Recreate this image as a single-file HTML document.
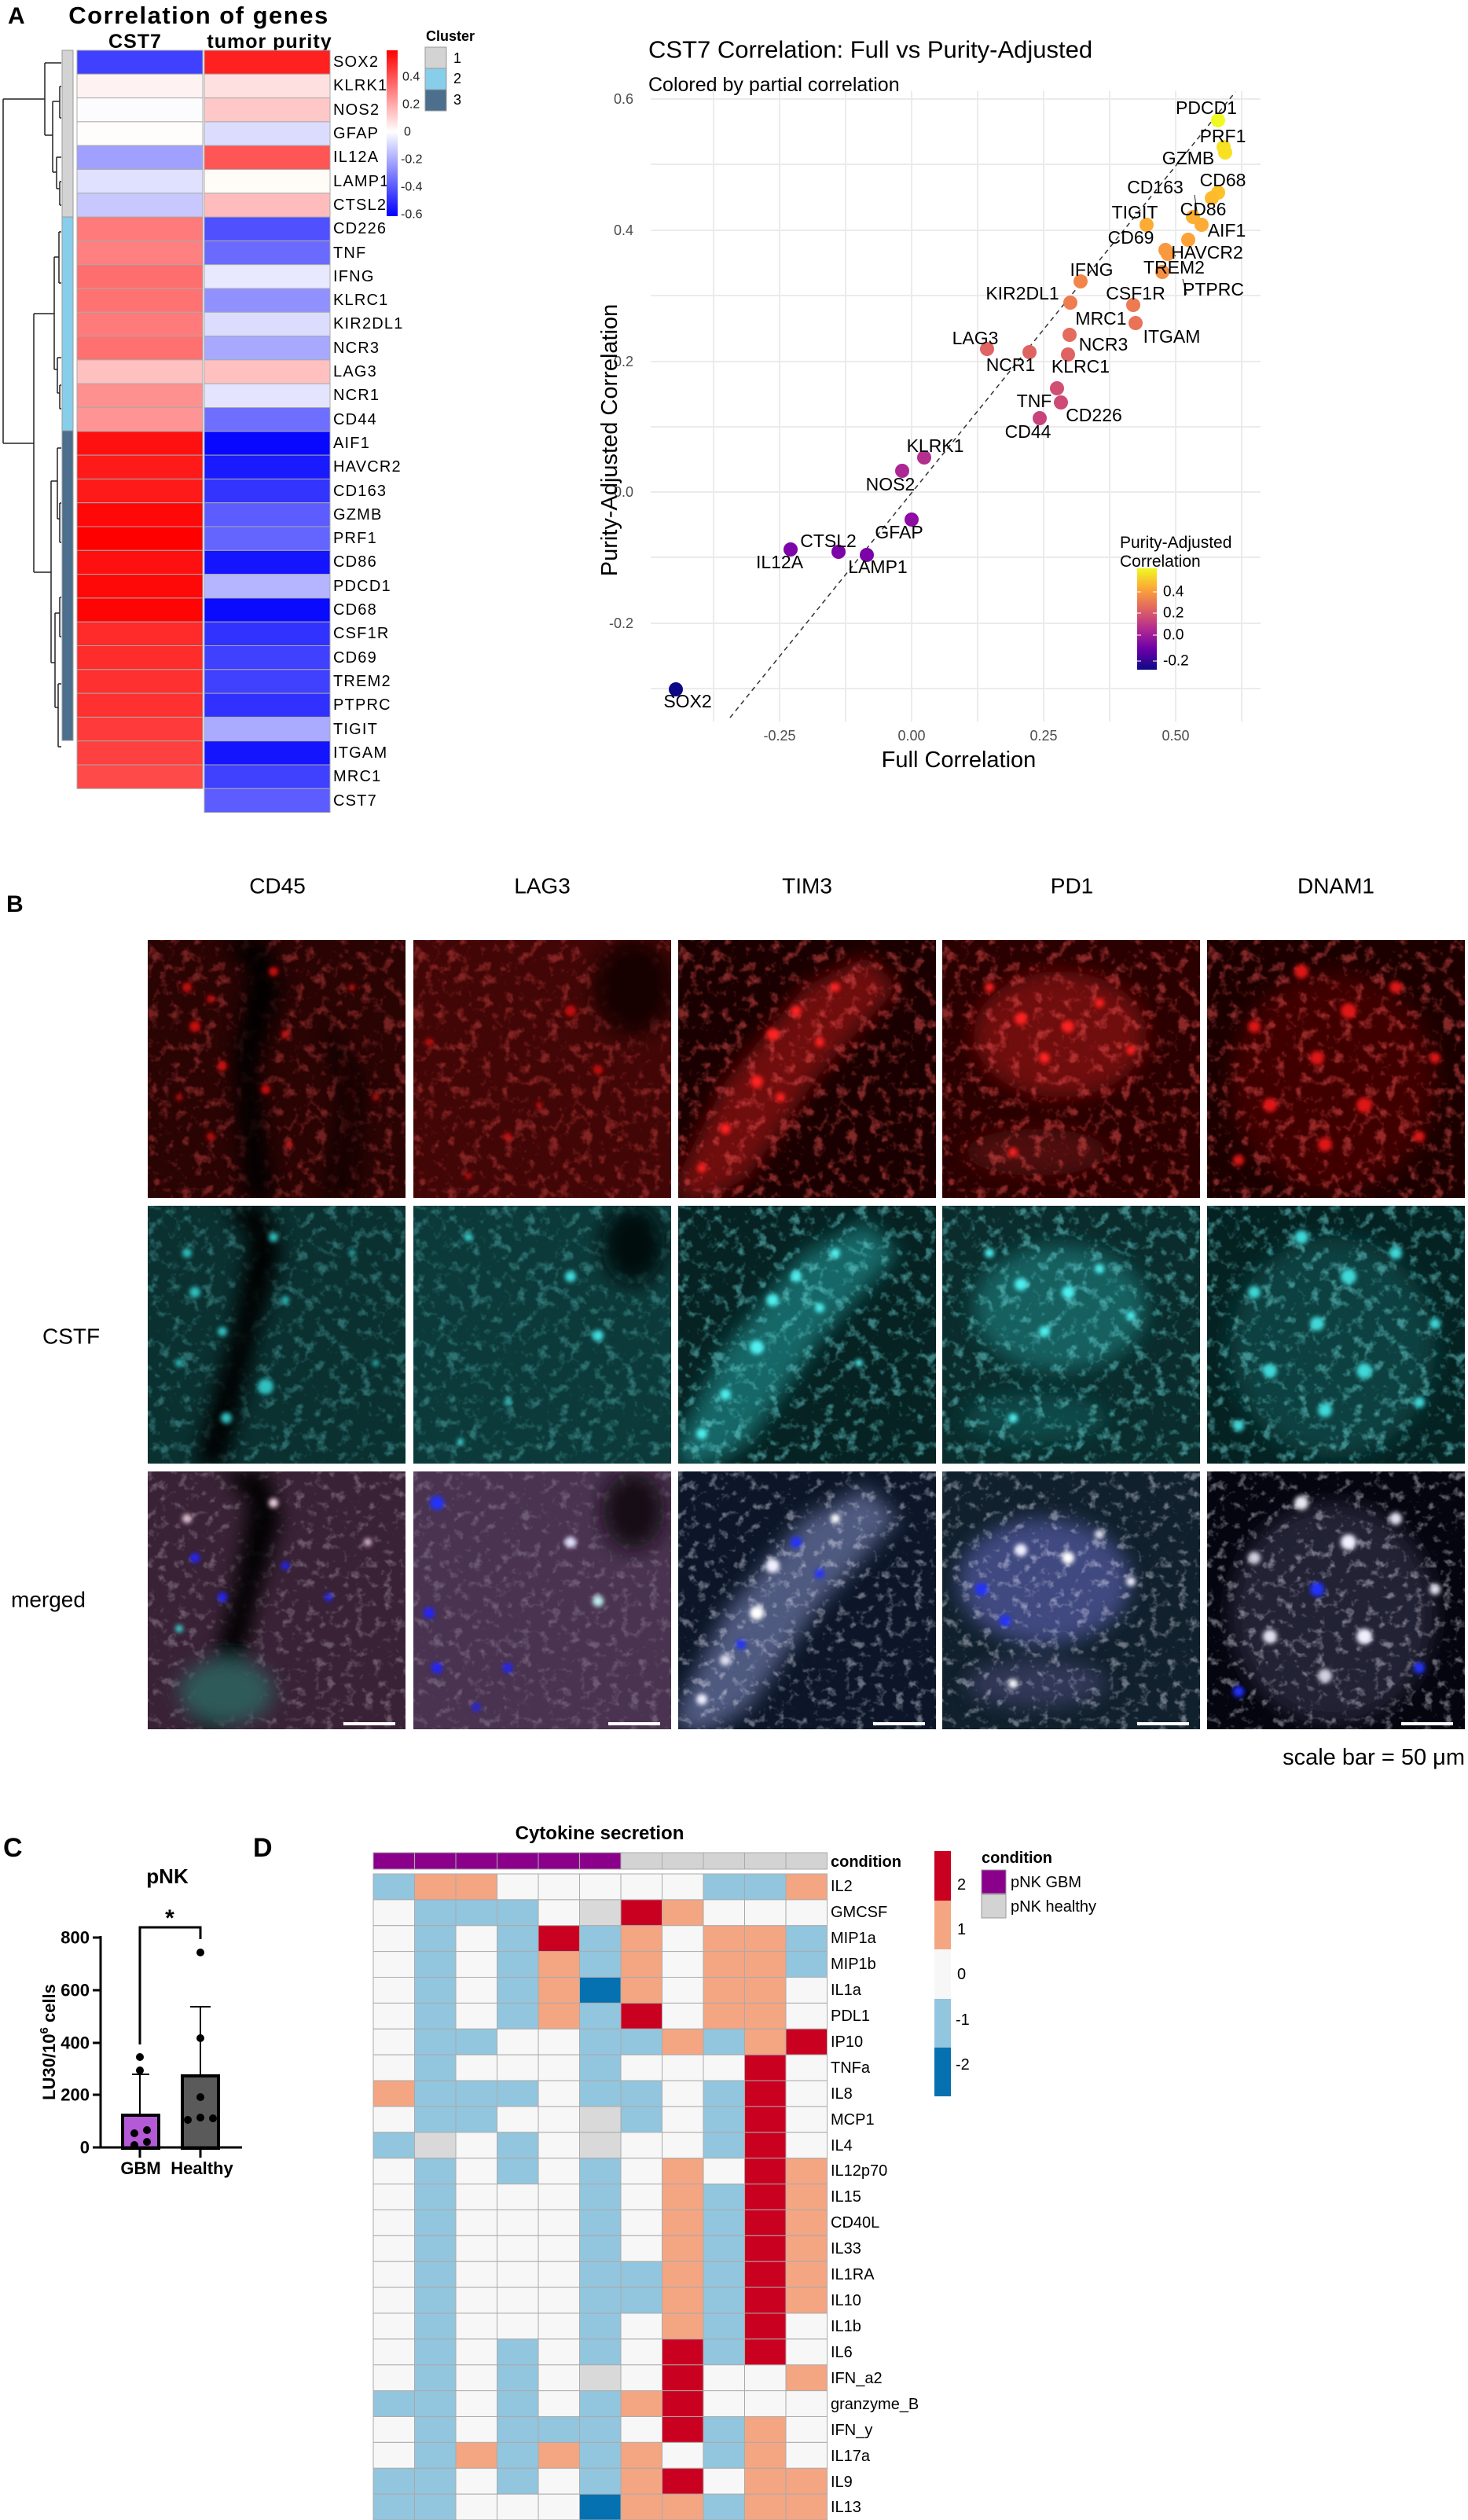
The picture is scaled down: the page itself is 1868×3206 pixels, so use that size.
<!DOCTYPE html>
<html><head><meta charset="utf-8"><style>
html,body{margin:0;padding:0;background:#fff}
svg{display:block}
text{font-family:"Liberation Sans",Arial,sans-serif}
</style></head><body>
<svg width="1868" height="3206" viewBox="0 0 1868 3206" xmlns="http://www.w3.org/2000/svg">
<defs>
<linearGradient id="rb" x1="0" y1="0" x2="0" y2="1">
<stop offset="0" stop-color="#ff0000"/><stop offset="0.49" stop-color="#ffffff"/><stop offset="1" stop-color="#0000ff"/>
</linearGradient>
<linearGradient id="pl" x1="0" y1="1" x2="0" y2="0">
<stop offset="0" stop-color="#0d0887"/><stop offset="0.2" stop-color="#6a00a8"/><stop offset="0.4" stop-color="#b12a90"/><stop offset="0.6" stop-color="#e16462"/><stop offset="0.8" stop-color="#fca636"/><stop offset="1" stop-color="#f0f921"/>
</linearGradient>
<filter id="bl" x="-20%" y="-20%" width="140%" height="140%"><feGaussianBlur stdDeviation="12"/></filter>
<filter id="bs" x="-50%" y="-50%" width="200%" height="200%"><feGaussianBlur stdDeviation="3"/></filter>
<filter id="tR" x="0" y="0" width="100%" height="100%"><feTurbulence type="fractalNoise" baseFrequency="0.07" numOctaves="3" seed="3"/><feColorMatrix type="matrix" values="0 0 0 0 1  0 0 0 0 0.1  0 0 0 0 0.1  4 0 0 0 -2.1"/></filter>
<filter id="tC" x="0" y="0" width="100%" height="100%"><feTurbulence type="fractalNoise" baseFrequency="0.07" numOctaves="3" seed="7"/><feColorMatrix type="matrix" values="0 0 0 0 0.2  0 0 0 0 0.9  0 0 0 0 0.9  4 0 0 0 -2.1"/></filter>
<filter id="tW" x="0" y="0" width="100%" height="100%"><feTurbulence type="fractalNoise" baseFrequency="0.08" numOctaves="3" seed="11"/><feColorMatrix type="matrix" values="0 0 0 0 0.9  0 0 0 0 0.9  0 0 0 0 1  4 0 0 0 -2.2"/></filter>
<clipPath id="c1"><rect x="0" y="0" width="328" height="328"/></clipPath>
</defs>

<!-- ============ PANEL A HEATMAP ============ -->
<text x="10" y="30" font-size="30" font-weight="bold">A</text>
<text x="253" y="30" font-size="31" font-weight="bold" text-anchor="middle" letter-spacing="1.5">Correlation of genes</text>
<text x="172" y="61" font-size="25" font-weight="bold" text-anchor="middle" letter-spacing="1">CST7</text>
<text x="343" y="61" font-size="25" font-weight="bold" text-anchor="middle" letter-spacing="1">tumor purity</text>

<g stroke="#999" stroke-width="1">
<rect x="79" y="64" width="14" height="212" fill="#d3d3d3"/>
<rect x="79" y="276" width="14" height="272" fill="#87ceeb"/>
<rect x="79" y="548" width="14" height="394" fill="#4b6f8c"/>
</g>
<g stroke="#aaa" stroke-width="1">
<rect x="98" y="64.0" width="160" height="30.3" fill="#4040ff"/><rect x="260" y="64.0" width="160" height="30.3" fill="#ff2020"/>
<rect x="98" y="94.3" width="160" height="30.3" fill="#fff2f2"/><rect x="260" y="94.3" width="160" height="30.3" fill="#ffe0e0"/>
<rect x="98" y="124.6" width="160" height="30.3" fill="#fcfcfe"/><rect x="260" y="124.6" width="160" height="30.3" fill="#ffc8c8"/>
<rect x="98" y="154.9" width="160" height="30.3" fill="#fffdfb"/><rect x="260" y="154.9" width="160" height="30.3" fill="#dcdcff"/>
<rect x="98" y="185.2" width="160" height="30.3" fill="#a0a0ff"/><rect x="260" y="185.2" width="160" height="30.3" fill="#ff5555"/>
<rect x="98" y="215.5" width="160" height="30.3" fill="#e0e0ff"/><rect x="260" y="215.5" width="160" height="30.3" fill="#fffcf8"/>
<rect x="98" y="245.8" width="160" height="30.3" fill="#c8c8ff"/><rect x="260" y="245.8" width="160" height="30.3" fill="#ffbcbc"/>
<rect x="98" y="276.1" width="160" height="30.3" fill="#ff7a7a"/><rect x="260" y="276.1" width="160" height="30.3" fill="#5050ff"/>
<rect x="98" y="306.4" width="160" height="30.3" fill="#ff8080"/><rect x="260" y="306.4" width="160" height="30.3" fill="#6a6aff"/>
<rect x="98" y="336.7" width="160" height="30.3" fill="#ff6e6e"/><rect x="260" y="336.7" width="160" height="30.3" fill="#e8e8ff"/>
<rect x="98" y="367.0" width="160" height="30.3" fill="#ff7272"/><rect x="260" y="367.0" width="160" height="30.3" fill="#9090ff"/>
<rect x="98" y="397.3" width="160" height="30.3" fill="#ff7a7a"/><rect x="260" y="397.3" width="160" height="30.3" fill="#dcdcff"/>
<rect x="98" y="427.6" width="160" height="30.3" fill="#ff7070"/><rect x="260" y="427.6" width="160" height="30.3" fill="#a8a8ff"/>
<rect x="98" y="457.9" width="160" height="30.3" fill="#ffc0c0"/><rect x="260" y="457.9" width="160" height="30.3" fill="#ffc0c0"/>
<rect x="98" y="488.2" width="160" height="30.3" fill="#ff9090"/><rect x="260" y="488.2" width="160" height="30.3" fill="#e4e4ff"/>
<rect x="98" y="518.5" width="160" height="30.3" fill="#ff9494"/><rect x="260" y="518.5" width="160" height="30.3" fill="#6e6eff"/>
<rect x="98" y="548.8" width="160" height="30.3" fill="#ff1010"/><rect x="260" y="548.8" width="160" height="30.3" fill="#0808ff"/>
<rect x="98" y="579.1" width="160" height="30.3" fill="#ff1a1a"/><rect x="260" y="579.1" width="160" height="30.3" fill="#1a1aff"/>
<rect x="98" y="609.4" width="160" height="30.3" fill="#ff1a1a"/><rect x="260" y="609.4" width="160" height="30.3" fill="#3434ff"/>
<rect x="98" y="639.7" width="160" height="30.3" fill="#ff0808"/><rect x="260" y="639.7" width="160" height="30.3" fill="#5c5cff"/>
<rect x="98" y="670.0" width="160" height="30.3" fill="#ff0000"/><rect x="260" y="670.0" width="160" height="30.3" fill="#6464ff"/>
<rect x="98" y="700.3" width="160" height="30.3" fill="#ff1010"/><rect x="260" y="700.3" width="160" height="30.3" fill="#1414ff"/>
<rect x="98" y="730.6" width="160" height="30.3" fill="#ff0808"/><rect x="260" y="730.6" width="160" height="30.3" fill="#b4b4ff"/>
<rect x="98" y="760.9" width="160" height="30.3" fill="#ff0404"/><rect x="260" y="760.9" width="160" height="30.3" fill="#0a0aff"/>
<rect x="98" y="791.2" width="160" height="30.3" fill="#ff2a2a"/><rect x="260" y="791.2" width="160" height="30.3" fill="#3232ff"/>
<rect x="98" y="821.5" width="160" height="30.3" fill="#ff2c2c"/><rect x="260" y="821.5" width="160" height="30.3" fill="#4040ff"/>
<rect x="98" y="851.8" width="160" height="30.3" fill="#ff3030"/><rect x="260" y="851.8" width="160" height="30.3" fill="#4040ff"/>
<rect x="98" y="882.1" width="160" height="30.3" fill="#ff3030"/><rect x="260" y="882.1" width="160" height="30.3" fill="#3030ff"/>
<rect x="98" y="912.4" width="160" height="30.3" fill="#ff3a3a"/><rect x="260" y="912.4" width="160" height="30.3" fill="#aaaaff"/>
<rect x="98" y="942.7" width="160" height="30.3" fill="#ff4040"/><rect x="260" y="942.7" width="160" height="30.3" fill="#1414ff"/>
<rect x="98" y="973.0" width="160" height="30.3" fill="#ff4a4a"/><rect x="260" y="973.0" width="160" height="30.3" fill="#4040ff"/>
<rect x="260" y="1003.3" width="160" height="30.3" fill="#5c5cff"/>
</g>
<g font-size="20" letter-spacing="1.2" dominant-baseline="central">
<text x="424" y="79">SOX2</text><text x="424" y="109">KLRK1</text><text x="424" y="140">NOS2</text><text x="424" y="170">GFAP</text>
<text x="424" y="200">IL12A</text><text x="424" y="231">LAMP1</text><text x="424" y="261">CTSL2</text><text x="424" y="291">CD226</text>
<text x="424" y="322">TNF</text><text x="424" y="352">IFNG</text><text x="424" y="382">KLRC1</text><text x="424" y="412">KIR2DL1</text>
<text x="424" y="443">NCR3</text><text x="424" y="473">LAG3</text><text x="424" y="503">NCR1</text><text x="424" y="534">CD44</text>
<text x="424" y="564">AIF1</text><text x="424" y="594">HAVCR2</text><text x="424" y="625">CD163</text><text x="424" y="655">GZMB</text>
<text x="424" y="685">PRF1</text><text x="424" y="715">CD86</text><text x="424" y="746">PDCD1</text><text x="424" y="776">CD68</text>
<text x="424" y="806">CSF1R</text><text x="424" y="837">CD69</text><text x="424" y="867">TREM2</text><text x="424" y="897">PTPRC</text>
<text x="424" y="928">TIGIT</text><text x="424" y="958">ITGAM</text><text x="424" y="988">MRC1</text><text x="424" y="1019">CST7</text>
</g>
<g stroke="#222" stroke-width="1.5" fill="none">
<path d="M4 126 V564 M4 126 H57 M4 564 H43"/>
<path d="M57 80 V172 M57 80 H78 M57 172 H67 M67 129 V219 M67 129 H76 M76 110 V150 M76 110 H78 M76 150 H78 M67 219 H72 M72 200 V240 M72 200 H78 M72 240 H76 M76 231 V261 M76 231 H78 M76 261 H78"/>
<path d="M43 399 V728 M43 399 H69 M69 327 V470 M69 327 H75 M75 295 V360 M75 295 H78 M75 360 H78 M69 470 H73 M73 455 V500 M73 455 H78 M73 500 H76 M76 490 V520 M76 490 H78 M76 520 H78"/>
<path d="M43 728 H65 M65 612 V843 M65 612 H73 M73 570 V660 M73 570 H78 M73 660 H76 M76 640 V690 M76 640 H78 M76 690 H78 M65 843 H70 M70 780 V900 M70 780 H76 M76 760 V810 M76 760 H78 M76 810 H78 M70 900 H74 M74 870 V950 M74 870 H78 M74 950 H78"/>
</g>
<rect x="492" y="64" width="14" height="211" fill="url(#rb)"/>
<g font-size="16" fill="#222" dominant-baseline="central">
<text x="512" y="98">0.4</text><text x="512" y="133">0.2</text><text x="514" y="168">0</text>
<text x="510" y="203">-0.2</text><text x="510" y="238">-0.4</text><text x="510" y="273">-0.6</text>
</g>
<text x="542" y="52" font-size="18" font-weight="bold">Cluster</text>
<rect x="541" y="60" width="27" height="27" fill="#d3d3d3" stroke="#999"/>
<rect x="541" y="87" width="27" height="27" fill="#87ceeb" stroke="#999"/>
<rect x="541" y="114" width="27" height="27" fill="#4b6f8c" stroke="#999"/>
<g font-size="18" dominant-baseline="central"><text x="577" y="74">1</text><text x="577" y="100">2</text><text x="577" y="127">3</text></g>

<!-- ============ PANEL A SCATTER ============ -->
<text x="825" y="63" font-size="31" dominant-baseline="central">CST7 Correlation: Full vs Purity-Adjusted</text>
<text x="825" y="108" font-size="25" dominant-baseline="central">Colored by partial correlation</text>
<g stroke="#ebebeb" stroke-width="2">
<path d="M908 116V918M992 116V918M1076 116V918M1160 116V918M1244 116V918M1328 116V918M1412 116V918M1496 116V918M1580 116V918"/>
<path d="M828 126H1604M828 209H1604M828 293H1604M828 376H1604M828 460H1604M828 543H1604M828 626H1604M828 709H1604M828 793H1604M828 876H1604"/>
</g>
<line x1="929" y1="913" x2="1572" y2="117" stroke="#333" stroke-width="1.5" stroke-dasharray="6,5"/>
<g font-size="18" fill="#4d4d4d" text-anchor="end" dominant-baseline="central">
<text x="806" y="126">0.6</text><text x="806" y="293">0.4</text><text x="806" y="460">0.2</text><text x="806" y="626">0.0</text><text x="806" y="793">-0.2</text>
</g>
<g font-size="18" fill="#4d4d4d" text-anchor="middle">
<text x="992" y="942">-0.25</text><text x="1160" y="942">0.00</text><text x="1328" y="942">0.25</text><text x="1496" y="942">0.50</text>
</g>
<text x="1220" y="976" font-size="29" text-anchor="middle">Full Correlation</text>
<text transform="translate(785,560) rotate(-90)" font-size="29" text-anchor="middle">Purity-Adjusted Correlation</text>
<g stroke="#222" stroke-width="1">
<path d="M1520 248 L1524 275 M1479 310 L1496 326 M1505 355 L1510 375"/>
</g>
<g>
<circle cx="1550" cy="153" r="9" fill="#f0f921"/>
<circle cx="1557" cy="187" r="9" fill="#f8e022"/>
<circle cx="1559" cy="194" r="9" fill="#f8e022"/>
<circle cx="1550" cy="245" r="9" fill="#fdc22a"/>
<circle cx="1542" cy="252" r="9" fill="#fdba2c"/>
<circle cx="1518" cy="276" r="9" fill="#fcb033"/>
<circle cx="1529" cy="286" r="9" fill="#fcac34"/>
<circle cx="1459" cy="286" r="9" fill="#fcac34"/>
<circle cx="1512" cy="305" r="9" fill="#fba238"/>
<circle cx="1483" cy="318" r="9" fill="#f89940"/>
<circle cx="1486" cy="323" r="9" fill="#f89940"/>
<circle cx="1479" cy="346" r="9" fill="#f48f44"/>
<circle cx="1375" cy="358" r="9" fill="#f2864a"/>
<circle cx="1362" cy="385" r="9" fill="#ee7c50"/>
<circle cx="1442" cy="388" r="9" fill="#ed7a52"/>
<circle cx="1445" cy="411" r="9" fill="#e97257"/>
<circle cx="1361" cy="426" r="9" fill="#e56b5d"/>
<circle cx="1359" cy="451" r="9" fill="#df6263"/>
<circle cx="1256" cy="444" r="9" fill="#e06463"/>
<circle cx="1310" cy="448" r="9" fill="#df6363"/>
<circle cx="1345" cy="494" r="9" fill="#d14f72"/>
<circle cx="1350" cy="512" r="9" fill="#cd4a76"/>
<circle cx="1323" cy="532" r="9" fill="#c8437b"/>
<circle cx="1176" cy="582" r="9" fill="#b42e8d"/>
<circle cx="1148" cy="599" r="9" fill="#ac2694"/>
<circle cx="1160" cy="661" r="9" fill="#8f0da4"/>
<circle cx="1006" cy="699" r="9" fill="#7e03a8"/>
<circle cx="1067" cy="702" r="9" fill="#7c02a8"/>
<circle cx="1103" cy="706" r="9" fill="#7a02a8"/>
<circle cx="860" cy="877" r="9" fill="#0d0887"/>
</g>
<g font-size="23" text-anchor="middle" dominant-baseline="central">
<text x="1535" y="137">PDCD1</text><text x="1556" y="173">PRF1</text><text x="1512" y="201">GZMB</text>
<text x="1556" y="229">CD68</text><text x="1470" y="238">CD163</text><text x="1531" y="266">CD86</text>
<text x="1444" y="270">TIGIT</text><text x="1561" y="293">AIF1</text><text x="1439" y="302">CD69</text>
<text x="1536" y="321">HAVCR2</text><text x="1494" y="340">TREM2</text><text x="1389" y="343">IFNG</text>
<text x="1301" y="373">KIR2DL1</text><text x="1445" y="373">CSF1R</text><text x="1544" y="368">PTPRC</text>
<text x="1401" y="405">MRC1</text><text x="1491" y="428">ITGAM</text><text x="1241" y="430">LAG3</text>
<text x="1404" y="438">NCR3</text><text x="1286" y="464">NCR1</text><text x="1375" y="466">KLRC1</text>
<text x="1316" y="510">TNF</text><text x="1392" y="528">CD226</text><text x="1308" y="549">CD44</text>
<text x="1190" y="567">KLRK1</text><text x="1133" y="616">NOS2</text><text x="1144" y="677">GFAP</text>
<text x="1054" y="688">CTSL2</text><text x="992" y="715">IL12A</text><text x="1117" y="721">LAMP1</text>
<text x="875" y="892">SOX2</text>
</g>
<text x="1425" y="697" font-size="21">Purity-Adjusted</text>
<text x="1425" y="721" font-size="21">Correlation</text>
<rect x="1447" y="723" width="25" height="129" fill="url(#pl)"/>
<g stroke="#fff" stroke-width="1.5" opacity="0.7"><path d="M1447 753h5M1467 753h5M1447 780h5M1467 780h5M1447 808h5M1467 808h5M1447 841h5M1467 841h5"/></g>
<g font-size="19" dominant-baseline="central">
<text x="1480" y="753">0.4</text><text x="1480" y="780">0.2</text><text x="1480" y="808">0.0</text><text x="1480" y="841">-0.2</text>
</g>

<!-- ============ PANEL B ============ -->
<text x="8" y="1160" font-size="30" font-weight="bold">B</text>
<g font-size="28" text-anchor="middle" dominant-baseline="central">
<text x="353" y="1127">CD45</text><text x="690" y="1127">LAG3</text><text x="1027" y="1127">TIM3</text><text x="1364" y="1127">PD1</text><text x="1700" y="1127">DNAM1</text>
</g>
<text x="54" y="1700" font-size="28" dominant-baseline="central">CSTF</text>
<text x="14" y="2035" font-size="28" dominant-baseline="central">merged</text>
<text x="1864" y="2236" font-size="29" text-anchor="end" dominant-baseline="central">scale bar = 50 μm</text>

<!-- Row 1 red -->
<g transform="translate(188,1196)" clip-path="url(#c1)">
<rect width="328" height="328" fill="#2a0303"/>
<rect width="328" height="328" filter="url(#tR)" opacity="0.35"/>
<g filter="url(#bl)"><path d="M95 0 L130 40 L110 150 L125 330 L160 330 L140 160 L170 60 L150 0Z" fill="#000"/><path d="M220 90 L250 200 L230 330 L260 330 L270 180Z" fill="#0a0000"/></g>
<g fill="#d01010" filter="url(#bs)"><circle cx="50" cy="60" r="6"/><circle cx="60" cy="110" r="7"/><circle cx="80" cy="75" r="5"/><circle cx="95" cy="160" r="6"/><circle cx="160" cy="40" r="6"/><circle cx="175" cy="120" r="5"/><circle cx="150" cy="190" r="6"/><circle cx="40" cy="200" r="4"/><circle cx="80" cy="250" r="5"/><circle cx="180" cy="260" r="4"/><circle cx="260" cy="60" r="4"/><circle cx="290" cy="200" r="4"/></g>
</g>
<g transform="translate(526,1196)" clip-path="url(#c1)">
<rect width="328" height="328" fill="#420606"/>
<rect width="328" height="328" filter="url(#tR)" opacity="0.35"/>
<g filter="url(#bl)"><ellipse cx="280" cy="60" rx="50" ry="60" fill="#140000"/></g>
<g fill="#c81010" filter="url(#bs)"><circle cx="200" cy="90" r="7"/><circle cx="235" cy="165" r="6"/><circle cx="20" cy="130" r="5"/><circle cx="120" cy="250" r="5"/><circle cx="160" cy="210" r="4"/><circle cx="70" cy="300" r="4"/></g>
</g>
<g transform="translate(863,1196)" clip-path="url(#c1)">
<rect width="328" height="328" fill="#1a0000"/>
<g filter="url(#bl)"><path d="M0 300 L60 180 L160 60 L240 20 L280 60 L180 170 L90 300 L40 330 L0 330Z" fill="#701010"/></g>
<rect width="328" height="328" filter="url(#tR)" opacity="0.45"/>
<g fill="#ff2020" filter="url(#bs)"><circle cx="120" cy="120" r="8"/><circle cx="150" cy="90" r="7"/><circle cx="100" cy="180" r="8"/><circle cx="60" cy="240" r="7"/><circle cx="180" cy="130" r="6"/><circle cx="30" cy="290" r="6"/><circle cx="200" cy="60" r="6"/><circle cx="130" cy="200" r="6"/></g>
</g>
<g transform="translate(1199,1196)" clip-path="url(#c1)">
<rect width="328" height="328" fill="#2a0000"/>
<g filter="url(#bl)"><ellipse cx="150" cy="120" rx="110" ry="80" fill="#701010"/><ellipse cx="120" cy="270" rx="90" ry="30" fill="#500808"/></g>
<rect width="328" height="328" filter="url(#tR)" opacity="0.45"/>
<g fill="#ff2020" filter="url(#bs)"><circle cx="100" cy="100" r="8"/><circle cx="160" cy="110" r="8"/><circle cx="130" cy="150" r="7"/><circle cx="200" cy="80" r="6"/><circle cx="60" cy="60" r="6"/><circle cx="240" cy="140" r="6"/><circle cx="90" cy="270" r="6"/></g>
</g>
<g transform="translate(1536,1196)" clip-path="url(#c1)">
<rect width="328" height="328" fill="#1c0000"/>
<g filter="url(#bl)"><ellipse cx="160" cy="180" rx="130" ry="140" fill="#400606"/></g>
<rect width="328" height="328" filter="url(#tR)" opacity="0.45"/>
<g fill="#e01818" filter="url(#bs)"><circle cx="120" cy="40" r="9"/><circle cx="180" cy="90" r="10"/><circle cx="60" cy="110" r="8"/><circle cx="240" cy="60" r="8"/><circle cx="140" cy="150" r="9"/><circle cx="80" cy="210" r="9"/><circle cx="200" cy="210" r="10"/><circle cx="150" cy="260" r="9"/><circle cx="270" cy="250" r="7"/><circle cx="40" cy="280" r="7"/><circle cx="290" cy="150" r="7"/></g>
</g>

<!-- Row 2 cyan -->
<g transform="translate(188,1534)" clip-path="url(#c1)">
<rect width="328" height="328" fill="#0a3030"/>
<rect width="328" height="328" filter="url(#tC)" opacity="0.3"/>
<g filter="url(#bl)"><path d="M95 0 L130 40 L110 150 L60 330 L100 330 L140 160 L170 60 L150 0Z" fill="#000"/></g>
<g fill="#30c0c0" filter="url(#bs)"><circle cx="50" cy="60" r="6"/><circle cx="60" cy="110" r="7"/><circle cx="95" cy="160" r="6"/><circle cx="160" cy="40" r="6"/><circle cx="175" cy="120" r="5"/><circle cx="150" cy="230" r="10"/><circle cx="40" cy="200" r="5"/><circle cx="100" cy="270" r="7"/><circle cx="260" cy="60" r="4"/><circle cx="290" cy="200" r="4"/></g>
</g>
<g transform="translate(526,1534)" clip-path="url(#c1)">
<rect width="328" height="328" fill="#0c3a3a"/>
<rect width="328" height="328" filter="url(#tC)" opacity="0.3"/>
<g filter="url(#bl)"><ellipse cx="280" cy="50" rx="40" ry="50" fill="#021010"/></g>
<g fill="#40e0e0" filter="url(#bs)"><circle cx="200" cy="90" r="7"/><circle cx="235" cy="165" r="7"/><circle cx="70" cy="40" r="5"/><circle cx="120" cy="250" r="4"/><circle cx="60" cy="300" r="4"/></g>
</g>
<g transform="translate(863,1534)" clip-path="url(#c1)">
<rect width="328" height="328" fill="#062222"/>
<g filter="url(#bl)"><path d="M0 300 L60 180 L160 60 L240 20 L280 60 L180 170 L90 300 L40 330 L0 330Z" fill="#156868"/></g>
<rect width="328" height="328" filter="url(#tC)" opacity="0.45"/>
<g fill="#50f0f0" filter="url(#bs)"><circle cx="120" cy="120" r="8"/><circle cx="150" cy="90" r="7"/><circle cx="100" cy="180" r="9"/><circle cx="60" cy="240" r="7"/><circle cx="180" cy="130" r="6"/><circle cx="30" cy="290" r="7"/><circle cx="200" cy="60" r="6"/><circle cx="230" cy="200" r="5"/></g>
</g>
<g transform="translate(1199,1534)" clip-path="url(#c1)">
<rect width="328" height="328" fill="#0a2c2c"/>
<g filter="url(#bl)"><ellipse cx="150" cy="130" rx="110" ry="80" fill="#166060"/><ellipse cx="120" cy="270" rx="90" ry="30" fill="#104848"/></g>
<rect width="328" height="328" filter="url(#tC)" opacity="0.45"/>
<g fill="#50f0f0" filter="url(#bs)"><circle cx="100" cy="100" r="8"/><circle cx="160" cy="110" r="8"/><circle cx="130" cy="160" r="7"/><circle cx="200" cy="80" r="6"/><circle cx="60" cy="60" r="6"/><circle cx="240" cy="140" r="6"/><circle cx="90" cy="270" r="6"/></g>
</g>
<g transform="translate(1536,1534)" clip-path="url(#c1)">
<rect width="328" height="328" fill="#052222"/>
<g filter="url(#bl)"><ellipse cx="160" cy="180" rx="130" ry="140" fill="#0c4040"/></g>
<rect width="328" height="328" filter="url(#tC)" opacity="0.45"/>
<g fill="#40d8d8" filter="url(#bs)"><circle cx="120" cy="40" r="9"/><circle cx="180" cy="90" r="10"/><circle cx="60" cy="110" r="8"/><circle cx="240" cy="60" r="8"/><circle cx="140" cy="150" r="9"/><circle cx="80" cy="210" r="9"/><circle cx="200" cy="210" r="10"/><circle cx="150" cy="260" r="9"/><circle cx="270" cy="250" r="7"/><circle cx="40" cy="280" r="7"/><circle cx="290" cy="150" r="7"/></g>
</g>

<!-- Row 3 merged -->
<g transform="translate(188,1872)" clip-path="url(#c1)">
<rect width="328" height="328" fill="#3a2236"/>
<rect width="328" height="328" filter="url(#tW)" opacity="0.25"/>
<g filter="url(#bl)"><path d="M95 0 L130 40 L110 150 L60 330 L100 330 L140 160 L170 60 L150 0Z" fill="#000"/><ellipse cx="100" cy="280" rx="60" ry="40" fill="#2f5a5a"/></g>
<g filter="url(#bs)"><circle cx="50" cy="60" r="6" fill="#e0c0d0"/><circle cx="60" cy="110" r="6" fill="#2020ff"/><circle cx="95" cy="160" r="6" fill="#2020ff"/><circle cx="160" cy="40" r="6" fill="#f0d0e0"/><circle cx="175" cy="120" r="5" fill="#2020ff"/><circle cx="40" cy="200" r="5" fill="#40d0d0"/><circle cx="230" cy="160" r="5" fill="#2020ff"/><circle cx="280" cy="90" r="5" fill="#e0c0d0"/></g>
</g>
<g transform="translate(526,1872)" clip-path="url(#c1)">
<rect width="328" height="328" fill="#4a3350"/>
<rect width="328" height="328" filter="url(#tW)" opacity="0.2"/>
<g filter="url(#bl)"><ellipse cx="280" cy="50" rx="40" ry="50" fill="#120a14"/></g>
<g filter="url(#bs)"><circle cx="30" cy="40" r="9" fill="#2030ff"/><circle cx="200" cy="90" r="7" fill="#e0e0ff"/><circle cx="235" cy="165" r="7" fill="#c0f0f0"/><circle cx="20" cy="180" r="7" fill="#2020ff"/><circle cx="30" cy="250" r="7" fill="#2020ff"/><circle cx="120" cy="250" r="6" fill="#2020ff"/><circle cx="80" cy="300" r="5" fill="#2020ff"/></g>
</g>
<g transform="translate(863,1872)" clip-path="url(#c1)">
<rect width="328" height="328" fill="#0c1628"/>
<g filter="url(#bl)"><path d="M0 300 L60 180 L160 60 L240 20 L280 60 L180 170 L90 300 L40 330 L0 330Z" fill="#505a80"/></g>
<rect width="328" height="328" filter="url(#tW)" opacity="0.4"/>
<g filter="url(#bs)"><circle cx="120" cy="120" r="9" fill="#f0f0ff"/><circle cx="150" cy="90" r="7" fill="#2030ff"/><circle cx="100" cy="180" r="9" fill="#ffffff"/><circle cx="60" cy="240" r="7" fill="#e0e0f0"/><circle cx="180" cy="130" r="6" fill="#2030ff"/><circle cx="30" cy="290" r="7" fill="#f0f0ff"/><circle cx="200" cy="60" r="6" fill="#ffffff"/><circle cx="80" cy="220" r="6" fill="#2030ff"/></g>
</g>
<g transform="translate(1199,1872)" clip-path="url(#c1)">
<rect width="328" height="328" fill="#10202c"/>
<g filter="url(#bl)"><ellipse cx="130" cy="140" rx="110" ry="80" fill="#404a80"/><ellipse cx="120" cy="270" rx="90" ry="30" fill="#303858"/></g>
<rect width="328" height="328" filter="url(#tW)" opacity="0.4"/>
<g filter="url(#bs)"><circle cx="100" cy="100" r="8" fill="#f0f0ff"/><circle cx="160" cy="110" r="8" fill="#ffffff"/><circle cx="50" cy="150" r="8" fill="#2030ff"/><circle cx="80" cy="190" r="7" fill="#2030ff"/><circle cx="200" cy="80" r="6" fill="#e0e0f0"/><circle cx="240" cy="140" r="6" fill="#f0f0ff"/><circle cx="90" cy="270" r="6" fill="#ffffff"/></g>
</g>
<g transform="translate(1536,1872)" clip-path="url(#c1)">
<rect width="328" height="328" fill="#05050f"/>
<g filter="url(#bl)"><ellipse cx="160" cy="180" rx="130" ry="140" fill="#202036"/></g>
<rect width="328" height="328" filter="url(#tW)" opacity="0.4"/>
<g filter="url(#bs)"><circle cx="120" cy="40" r="9" fill="#e8e8f0"/><circle cx="180" cy="90" r="10" fill="#f0f0ff"/><circle cx="60" cy="110" r="8" fill="#d0d0e0"/><circle cx="240" cy="60" r="8" fill="#e0e0f0"/><circle cx="140" cy="150" r="9" fill="#2030ff"/><circle cx="80" cy="210" r="9" fill="#e0e0f0"/><circle cx="200" cy="210" r="10" fill="#f0f0ff"/><circle cx="150" cy="260" r="9" fill="#d0d0e0"/><circle cx="270" cy="250" r="7" fill="#2030ff"/><circle cx="40" cy="280" r="7" fill="#2030ff"/><circle cx="290" cy="150" r="7" fill="#e0e0f0"/></g>
</g>
<g fill="#fff">
<rect x="437" y="2191" width="66" height="4"/><rect x="774" y="2191" width="66" height="4"/><rect x="1111" y="2191" width="66" height="4"/><rect x="1447" y="2191" width="66" height="4"/><rect x="1783" y="2191" width="66" height="4"/>
</g>

<!-- ============ PANEL C ============ -->
<text x="4" y="2362" font-size="34" font-weight="bold">C</text>
<text x="213" y="2396" font-size="26" font-weight="bold" text-anchor="middle">pNK</text>
<text x="216" y="2450" font-size="30" font-weight="bold" text-anchor="middle">*</text>
<path d="M178 2601 V2452 H255 V2467" stroke="#000" stroke-width="3" fill="none"/>
<rect x="156" y="2691" width="46" height="42" fill="#b45ad6" stroke="#000" stroke-width="4"/>
<rect x="232" y="2641" width="46" height="92" fill="#5a5a5a" stroke="#000" stroke-width="4"/>
<g stroke="#000" stroke-width="2"><path d="M178 2691 V2639 M168 2639 H190 M255 2641 V2553 M242 2553 H268"/></g>
<g stroke="#000" stroke-width="3"><path d="M128 2463 V2733 M128 2732 H308 M118 2465 H128 M118 2532 H128 M118 2599 H128 M118 2665 H128 M118 2732 H128 M178 2732 V2745 M255 2732 V2745"/></g>
<g fill="#000">
<circle cx="178" cy="2617" r="5"/><circle cx="178" cy="2634" r="5"/><circle cx="171" cy="2714" r="5"/><circle cx="187" cy="2710" r="5"/><circle cx="171" cy="2729" r="5"/><circle cx="187" cy="2725" r="5"/>
<circle cx="255" cy="2484" r="5"/><circle cx="255" cy="2593" r="5"/><circle cx="255" cy="2668" r="5"/><circle cx="239" cy="2697" r="5"/><circle cx="255" cy="2694" r="5"/><circle cx="271" cy="2695" r="5"/>
</g>
<g font-size="22" font-weight="bold" text-anchor="end" dominant-baseline="central">
<text x="114" y="2465">800</text><text x="114" y="2532">600</text><text x="114" y="2599">400</text><text x="114" y="2665">200</text><text x="114" y="2732">0</text>
</g>
<g font-size="22" font-weight="bold" text-anchor="middle"><text x="179" y="2766">GBM</text><text x="257" y="2766">Healthy</text></g>
<text transform="translate(70,2598) rotate(-90)" font-size="22" font-weight="bold" text-anchor="middle">LU30/10<tspan dy="-9" font-size="15">6</tspan><tspan dy="9"> cells</tspan></text>

<!-- ============ PANEL D ============ -->
<text x="322" y="2362" font-size="34" font-weight="bold">D</text>
<text x="763" y="2340" font-size="24" font-weight="bold" text-anchor="middle">Cytokine secretion</text>
<g stroke="#aaa" stroke-width="1">
<rect x="475" y="2357" width="52.5" height="21" fill="#8b008b"/><rect x="527.5" y="2357" width="52.5" height="21" fill="#8b008b"/><rect x="580" y="2357" width="52.5" height="21" fill="#8b008b"/><rect x="632.5" y="2357" width="52.5" height="21" fill="#8b008b"/><rect x="685" y="2357" width="52.5" height="21" fill="#8b008b"/><rect x="737.5" y="2357" width="52.5" height="21" fill="#8b008b"/>
<rect x="790" y="2357" width="52.5" height="21" fill="#d3d3d3"/><rect x="842.5" y="2357" width="52.5" height="21" fill="#d3d3d3"/><rect x="895" y="2357" width="52.5" height="21" fill="#d3d3d3"/><rect x="947.5" y="2357" width="52.5" height="21" fill="#d3d3d3"/><rect x="1000" y="2357" width="52.5" height="21" fill="#d3d3d3"/>
</g>
<g id="hmD" stroke="#aaa" stroke-width="1"></g>
<g font-size="20" dominant-baseline="central">
<text x="1057" y="2369" font-weight="bold">condition</text>
<text x="1057" y="2400">IL2</text><text x="1057" y="2433">GMCSF</text><text x="1057" y="2466">MIP1a</text><text x="1057" y="2499">MIP1b</text><text x="1057" y="2532">IL1a</text>
<text x="1057" y="2565">PDL1</text><text x="1057" y="2598">IP10</text><text x="1057" y="2631">TNFa</text><text x="1057" y="2664">IL8</text><text x="1057" y="2697">MCP1</text>
<text x="1057" y="2730">IL4</text><text x="1057" y="2762">IL12p70</text><text x="1057" y="2795">IL15</text><text x="1057" y="2828">CD40L</text><text x="1057" y="2861">IL33</text>
<text x="1057" y="2894">IL1RA</text><text x="1057" y="2927">IL10</text><text x="1057" y="2960">IL1b</text><text x="1057" y="2993">IL6</text><text x="1057" y="3026">IFN_a2</text>
<text x="1057" y="3059">granzyme_B</text><text x="1057" y="3092">IFN_y</text><text x="1057" y="3125">IL17a</text><text x="1057" y="3158">IL9</text><text x="1057" y="3190">IL13</text>
</g>
<rect x="1189" y="2355" width="21" height="63" fill="#ca0020"/>
<rect x="1189" y="2418" width="21" height="62" fill="#f4a582"/>
<rect x="1189" y="2480" width="21" height="63" fill="#f7f7f7"/>
<rect x="1189" y="2543" width="21" height="62" fill="#92c5de"/>
<rect x="1189" y="2605" width="21" height="62" fill="#0571b0"/>
<g font-size="20" dominant-baseline="central">
<text x="1218" y="2398">2</text><text x="1218" y="2455">1</text><text x="1218" y="2512">0</text><text x="1216" y="2570">-1</text><text x="1216" y="2627">-2</text>
</g>
<text x="1249" y="2364" font-size="20" font-weight="bold" dominant-baseline="central">condition</text>
<rect x="1249" y="2379" width="31" height="30" fill="#8b008b" stroke="#999"/>
<rect x="1249" y="2410" width="31" height="30" fill="#d3d3d3" stroke="#999"/>
<g font-size="20" dominant-baseline="central"><text x="1286" y="2395">pNK GBM</text><text x="1286" y="2426">pNK healthy</text></g>
</svg>
<script>
(function(){
var rows=["BSSWWWWWBBS","WBBBWGRSWWW","WBWBRBSWSSB","WBWBSBSWSSB","WBWBSDSWSSW","WBWBSBRWSSW","WBBWWBBSBSR","WBWWWBWWWRW","SBBBWBBWBRW","WBBWWGBWBRW","BGWBWGWWBRW","WBWBWBWSWRS","WBWWWBWSBRS","WBWWWBWSBRS","WBWWWBWSBRS","WBWWWBBSBRS","WBWWWBBSBRS","WBWWWBWSBRW","WBWBWBWRBRW","WBWBWGWRWWS","BBWBWBSRWWW","WBWBBBWRBSW","WBSBSBSWBSW","BBWBWBSRWSS","BBWWWDSSBSS"];
var col={W:"#f7f7f7",B:"#92c5de",S:"#f4a582",R:"#ca0020",D:"#0571b0",G:"#d9d9d9"};
var g=document.getElementById("hmD"),ns="http://www.w3.org/2000/svg";
var h=(3206-2384)/25;
for(var i=0;i<rows.length;i++)for(var j=0;j<11;j++){var r=document.createElementNS(ns,"rect");
r.setAttribute("x",475+j*52.5);r.setAttribute("y",2384+i*h);r.setAttribute("width",52.5);r.setAttribute("height",h);r.setAttribute("fill",col[rows[i][j]]);g.appendChild(r);}
})();
</script>
</body></html>
